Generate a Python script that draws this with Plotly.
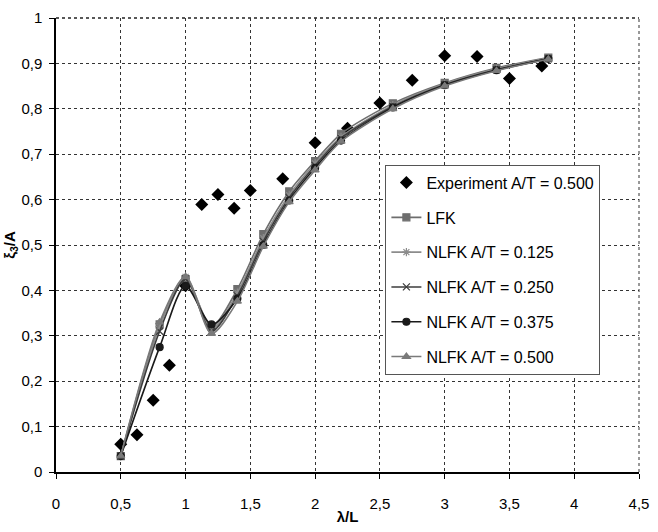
import plotly.graph_objects as go

# Experiment data
exp_x = [0.5, 0.625, 0.75, 0.875, 1.0, 1.125, 1.25, 1.375, 1.5, 1.75, 2.0, 2.25, 2.5, 2.75, 3.0, 3.25, 3.5, 3.75]
exp_y = [0.061, 0.082, 0.158, 0.235, 0.41, 0.589, 0.611, 0.581, 0.620, 0.646, 0.725, 0.757, 0.813, 0.863, 0.917, 0.915, 0.867, 0.894]

# Computed series
calc_x = [0.5, 0.8, 1.0, 1.2, 1.4, 1.6, 1.8, 2.0, 2.2, 2.6, 3.0, 3.4, 3.8]
lfk = [0.035, 0.325, 0.425, 0.320, 0.403, 0.524, 0.618, 0.685, 0.745, 0.812, 0.857, 0.890, 0.913]
nlfk_0125 = [0.035, 0.320, 0.430, 0.315, 0.395, 0.515, 0.610, 0.680, 0.738, 0.808, 0.855, 0.888, 0.912]
nlfk_0250 = [0.035, 0.310, 0.425, 0.310, 0.388, 0.508, 0.604, 0.675, 0.735, 0.805, 0.853, 0.886, 0.910]
nlfk_0375 = [0.035, 0.275, 0.410, 0.325, 0.382, 0.500, 0.598, 0.670, 0.730, 0.803, 0.852, 0.885, 0.910]
nlfk_0500 = [0.035, 0.330, 0.430, 0.305, 0.376, 0.497, 0.595, 0.665, 0.728, 0.800, 0.850, 0.884, 0.909]

FONT = "Liberation Sans, Arial, sans-serif"

fig = go.Figure()
fig.add_trace(go.Scatter(x=exp_x, y=exp_y, mode="markers", name="Experiment A/T = 0.500",
                         marker=dict(symbol="diamond", size=10, color="black"), legendgroup="a"))

series = [
    ("LFK", lfk, "#6e6e6e", "square", 7),
    ("NLFK A/T = 0.125", nlfk_0125, "#8c8c8c", "asterisk-open", 7),
    ("NLFK A/T = 0.250", nlfk_0250, "#3c3c3c", "x-thin-open", 7),
    ("NLFK A/T = 0.375", nlfk_0375, "#1a1a1a", "circle", 7),
    ("NLFK A/T = 0.500", nlfk_0500, "#7a7a7a", "triangle-up", 7),
]
for i, (name, ys, col, sym, sz) in enumerate(series):
    fig.add_trace(go.Scatter(x=calc_x, y=ys, mode="lines+markers", name=name,
                             line=dict(color=col, width=1.6, shape="spline", smoothing=0.8),
                             marker=dict(symbol=sym, size=sz, color=col, line=dict(color=col, width=1.2)),
                             legendgroup=str(i)))

# border lines at the top and right edges of the plot area (dotted like the grid)
fig.add_shape(type="line", xref="paper", yref="paper", x0=0, x1=1, y0=1, y1=1,
              line=dict(color="#222222", width=1.5, dash="dot"), layer="below")
fig.add_shape(type="line", xref="paper", yref="paper", x0=1, x1=1, y0=0, y1=1,
              line=dict(color="#333333", width=1, dash="dot"), layer="below")

fig.update_layout(
    width=658, height=532,
    margin=dict(l=54, r=9, t=14, b=57),
    paper_bgcolor="white", plot_bgcolor="white",
    separators=", ",
    font=dict(family=FONT, size=15, color="black"),
    showlegend=True,
    legend=dict(x=0.565, y=0.677, xanchor="left", yanchor="top",
                bgcolor="white", bordercolor="#555555", borderwidth=1,
                font=dict(family=FONT, size=16, color="black"),
                itemwidth=30, tracegroupgap=11),
)
fig.update_xaxes(range=[0, 4.5], dtick=0.5, tick0=0, showgrid=True, gridcolor="#333333",
                 griddash="dot", gridwidth=1, showline=True, linecolor="black", linewidth=2,
                 ticks="outside", ticklen=5, tickcolor="black", zeroline=False,
                 ticklabelstandoff=12, ticklabeloverflow="allow",
                 title=dict(text="<b>λ/L</b>", standoff=0, font=dict(family=FONT, size=15)))
fig.update_yaxes(range=[0, 1], dtick=0.1, tick0=0, showgrid=True, gridcolor="#333333",
                 griddash="dot", gridwidth=1, showline=True, linecolor="black", linewidth=1.5,
                 ticks="outside", ticklen=5, tickcolor="black", zeroline=False,
                 ticklabelstandoff=4,
                 title=dict(text="<b>ξ<sub>3</sub>/A</b>", standoff=2, font=dict(family=FONT, size=15)))

fig.write_html("out.html")
